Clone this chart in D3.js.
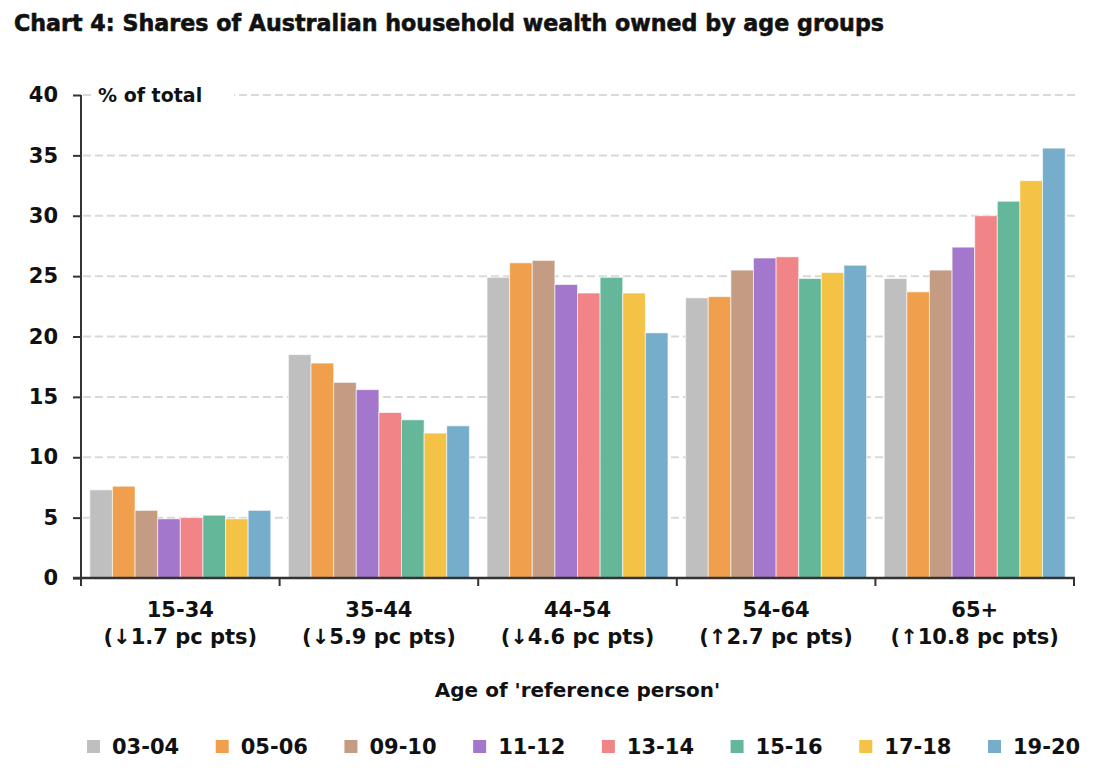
<!DOCTYPE html>
<html>
<head>
<meta charset="utf-8">
<script src="https://cdn.jsdelivr.net/npm/d3@7"></script>
<style>
body { margin: 0; background: #fff; }
text { font-family: "DejaVu Sans", sans-serif; font-weight: bold; fill: #111; }
</style>
</head>
<body>
<svg id="chart" width="1098" height="778"></svg>
<script>
// age groups and the change 03-04 -> 19-20 shown under each
const groups = ['15-34', '35-44', '44-54', '54-64', '65+'];
const changes = ['(\u21931.7 pc pts)', '(\u21935.9 pc pts)', '(\u21934.6 pc pts)', '(\u21912.7 pc pts)', '(\u219110.8 pc pts)'];
const years = ['03-04', '05-06', '09-10', '11-12', '13-14', '15-16', '17-18', '19-20'];
const colours = ['#bfbfbf', '#f0a04c', '#c49c84', '#a277cc', '#f08486', '#64b799', '#f4c244', '#75adcb'];

// share of wealth (%) for each survey year, one value per age group
const y0304 = [7.3, 18.5, 24.9, 23.2, 24.8];
const y0506 = [7.6, 17.8, 26.1, 23.3, 23.7];
const y0910 = [5.6, 16.2, 26.3, 25.5, 25.5];
const y1112 = [4.9, 15.6, 24.3, 26.5, 27.4];
const y1314 = [5.0, 13.7, 23.6, 26.6, 30.0];
const y1516 = [5.2, 13.1, 24.9, 24.8, 31.2];
const y1718 = [4.9, 12.0, 23.6, 25.3, 32.9];
const y1920 = [5.6, 12.6, 20.3, 25.9, 35.6];
const series = [y0304, y0506, y0910, y1112, y1314, y1516, y1718, y1920];

const yTicks = [0, 5, 10, 15, 20, 25, 30, 35, 40];

const svg = d3.select('#chart');
const plotL = 81, plotR = 1074, plotT = 95, plotB = 578;

let x0 = d3.scaleBand().domain(groups).range([plotL, plotR]).padding(0);
let x1 = d3.scaleBand().domain(years).range([0, x0.bandwidth()])
    .paddingInner(0).paddingOuter(0.39);
let y = d3.scaleLinear().domain([0, 40]).range([plotB, plotT]);
let colour = d3.scaleOrdinal().domain(years).range(colours);

// title
svg.append('text')
    .attr('x', 14).attr('y', 31)
    .attr('font-size', 23)
    .attr('textLength', 870)
    .attr('lengthAdjust', 'spacingAndGlyphs')
    .attr('stroke', '#111').attr('stroke-width', 0.6)
    .text('Chart 4: Shares of Australian household wealth owned by age groups');

// gridlines
svg.append('g')
    .selectAll('line')
    .data(yTicks.filter(d => d > 0))
    .enter()
    .append('line')
    .attr('x1', plotL + 2).attr('x2', plotR + 2)
    .attr('y1', d => y(d)).attr('y2', d => y(d))
    .attr('stroke', '#d9d9d9')
    .attr('stroke-width', 2)
    .attr('stroke-dasharray', '8,4');

// unit label sits on a white patch over the top gridline
svg.append('rect')
    .attr('x', 92).attr('y', y(40) - 10)
    .attr('width', 142).attr('height', 20)
    .attr('fill', '#fff');
svg.append('text')
    .attr('x', 98).attr('y', y(40) + 7)
    .attr('font-size', 19)
    .text('% of total');

// bars
let barData = [];
groups.forEach(function(g, gi) {
    years.forEach(function(yr, si) {
        barData.push({group: g, year: yr, value: series[si][gi]});
    });
});
svg.append('g')
    .selectAll('rect')
    .data(barData)
    .enter()
    .append('rect')
    .attr('x', d => x0(d.group) + x1(d.year))
    .attr('width', x1.bandwidth())
    .attr('y', d => y(d.value))
    .attr('height', d => y(0) - y(d.value))
    .attr('fill', d => colour(d.year))
    .attr('stroke', '#fff')
    .attr('stroke-opacity', 0.6)
    .attr('stroke-width', 1);

// y axis
let yAxis = svg.append('g')
    .attr('transform', `translate(${plotL},0)`)
    .call(d3.axisLeft(y).tickValues(yTicks).tickSize(8).tickPadding(15));
yAxis.select('.domain').attr('stroke', '#333').attr('stroke-width', 2)
    .attr('d', `M0,${plotB}V${plotT}`);
yAxis.selectAll('.tick line').attr('stroke', '#333').attr('stroke-width', 2);
yAxis.selectAll('.tick text')
    .attr('font-size', 21)
    .attr('font-family', '"DejaVu Sans", sans-serif')
    .attr('font-weight', 'bold')
    .attr('fill', '#111');

// x axis: line plus ticks at band boundaries
let xAxis = svg.append('g');
xAxis.append('line')
    .attr('x1', plotL - 8).attr('x2', plotR + 1)
    .attr('y1', plotB).attr('y2', plotB)
    .attr('stroke', '#333').attr('stroke-width', 2.5);
let bounds = groups.map(g => x0(g)).concat([plotR]);
xAxis.selectAll('line.tk')
    .data(bounds)
    .enter()
    .append('line')
    .attr('class', 'tk')
    .attr('x1', d => d).attr('x2', d => d)
    .attr('y1', plotB).attr('y2', plotB + 8)
    .attr('stroke', '#333').attr('stroke-width', 2);

// category labels (two lines)
let cats = svg.append('g')
    .selectAll('text')
    .data(groups)
    .enter()
    .append('text')
    .attr('text-anchor', 'middle')
    .attr('font-size', 21)
    .attr('transform', g => `translate(${x0(g) + x0.bandwidth() / 2},0)`);
cats.append('tspan').attr('x', 0).attr('y', 617).text(g => g);
cats.append('tspan').attr('x', 0).attr('y', 644).text((g, i) => changes[i]);

// axis title
svg.append('text')
    .attr('x', (plotL + plotR) / 2).attr('y', 697)
    .attr('text-anchor', 'middle')
    .attr('font-size', 20)
    .text("Age of 'reference person'");

// legend
let lx = d3.scalePoint().domain(years).range([87, 988]);
let leg = svg.append('g')
    .selectAll('g')
    .data(years)
    .enter()
    .append('g')
    .attr('transform', d => `translate(${lx(d)},740)`);
leg.append('rect')
    .attr('width', 13).attr('height', 13)
    .attr('fill', d => colour(d));
leg.append('text')
    .attr('x', 25).attr('y', 14)
    .attr('font-size', 21)
    .text(d => d);
</script>
</body>
</html>
